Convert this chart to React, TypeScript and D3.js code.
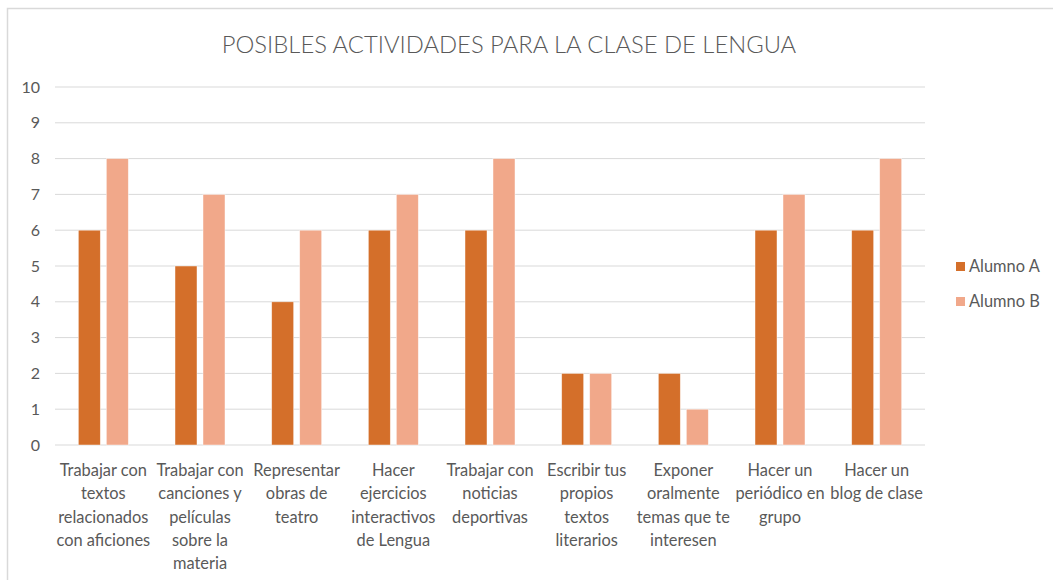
import React from "react";
import * as d3 from "d3";

const categories: string[][] = [
  ["Trabajar con", "textos", "relacionados", "con aficiones"],
  ["Trabajar con", "canciones y", "películas", "sobre la", "materia"],
  ["Representar", "obras de", "teatro"],
  ["Hacer", "ejercicios", "interactivos", "de Lengua"],
  ["Trabajar con", "noticias", "deportivas"],
  ["Escribir tus", "propios", "textos", "literarios"],
  ["Exponer", "oralmente", "temas que te", "interesen"],
  ["Hacer un", "periódico en", "grupo"],
  ["Hacer un", "blog de clase"],
];
const alumnoA = [6, 5, 4, 6, 6, 2, 2, 6, 6];
const alumnoB = [8, 7, 6, 7, 8, 2, 1, 7, 8];
const seriesNames = ["Alumno A", "Alumno B"];
const yTicks = [0, 1, 2, 3, 4, 5, 6, 7, 8, 9, 10];
const title = "POSIBLES ACTIVIDADES PARA LA CLASE DE LENGUA";

const colors = ["#D46F2A", "#F1A88A"];
const textColor = "#595959";
const font = "Lato, 'Open Sans', sans-serif";

export default function App() {
  const W = 1053, H = 580;
  const left = 55, right = 925, top = 87, bottom = 445;
  const x = d3.scaleBand<number>().domain(d3.range(categories.length)).range([left, right]).padding(0);
  const y = d3.scaleLinear().domain([0, 10]).range([bottom, top]);
  const step = x.bandwidth();
  const barW = 22, gap = 6;
  const series = [alumnoA, alumnoB];

  return (
    <svg width={W} height={H} style={{ position: "absolute", left: 0, top: 0, background: "#fff" }}>
      <rect x={0} y={0} width={W} height={H} fill="#fff" />
      <rect x={7.5} y={8.5} width={W + 10} height={H + 10} fill="none" stroke="#D9D9D9" strokeWidth={1.5} />
      <text x={509} y={53} textAnchor="middle" fontFamily={font} fontWeight={300} fontSize={23.8} fill={textColor}>
        {title}
      </text>
      {yTicks.map((t) => (
        <g key={t}>
          <line x1={left} x2={right} y1={y(t)} y2={y(t)} stroke="#D9D9D9" strokeWidth={1} />
          <text x={40} y={y(t) + 5.5} textAnchor="end" fontFamily={font} fontSize={16} fill={textColor}>
            {t}
          </text>
        </g>
      ))}
      {series.map((vals, si) =>
        vals.map((v, i) => {
          const cx = (x(i) as number) + step / 2;
          const bx = si === 0 ? cx - gap / 2 - barW : cx + gap / 2;
          return (
            <rect
              key={`${si}-${i}`}
              x={bx}
              y={y(v)}
              width={barW}
              height={y(0) - y(v)}
              fill={colors[si]}
              stroke="#fff"
              strokeOpacity={0.6}
              strokeWidth={0.75}
            />
          );
        })
      )}
      {categories.map((lines, i) => {
        const cx = (x(i) as number) + step / 2;
        return (
          <text key={i} textAnchor="middle" fontFamily={font} fontSize={16.4} fill={textColor}>
            {lines.map((l, li) => (
              <tspan key={li} x={cx} y={476 + li * 23.3}>
                {l}
              </tspan>
            ))}
          </text>
        );
      })}
      {seriesNames.map((n, si) => (
        <g key={n}>
          <rect x={956} y={262 + si * 35} width={9} height={9} fill={colors[si]} />
          <text x={969} y={272 + si * 35} fontFamily={font} fontSize={16.4} fill={textColor}>
            {n}
          </text>
        </g>
      ))}
    </svg>
  );
}
